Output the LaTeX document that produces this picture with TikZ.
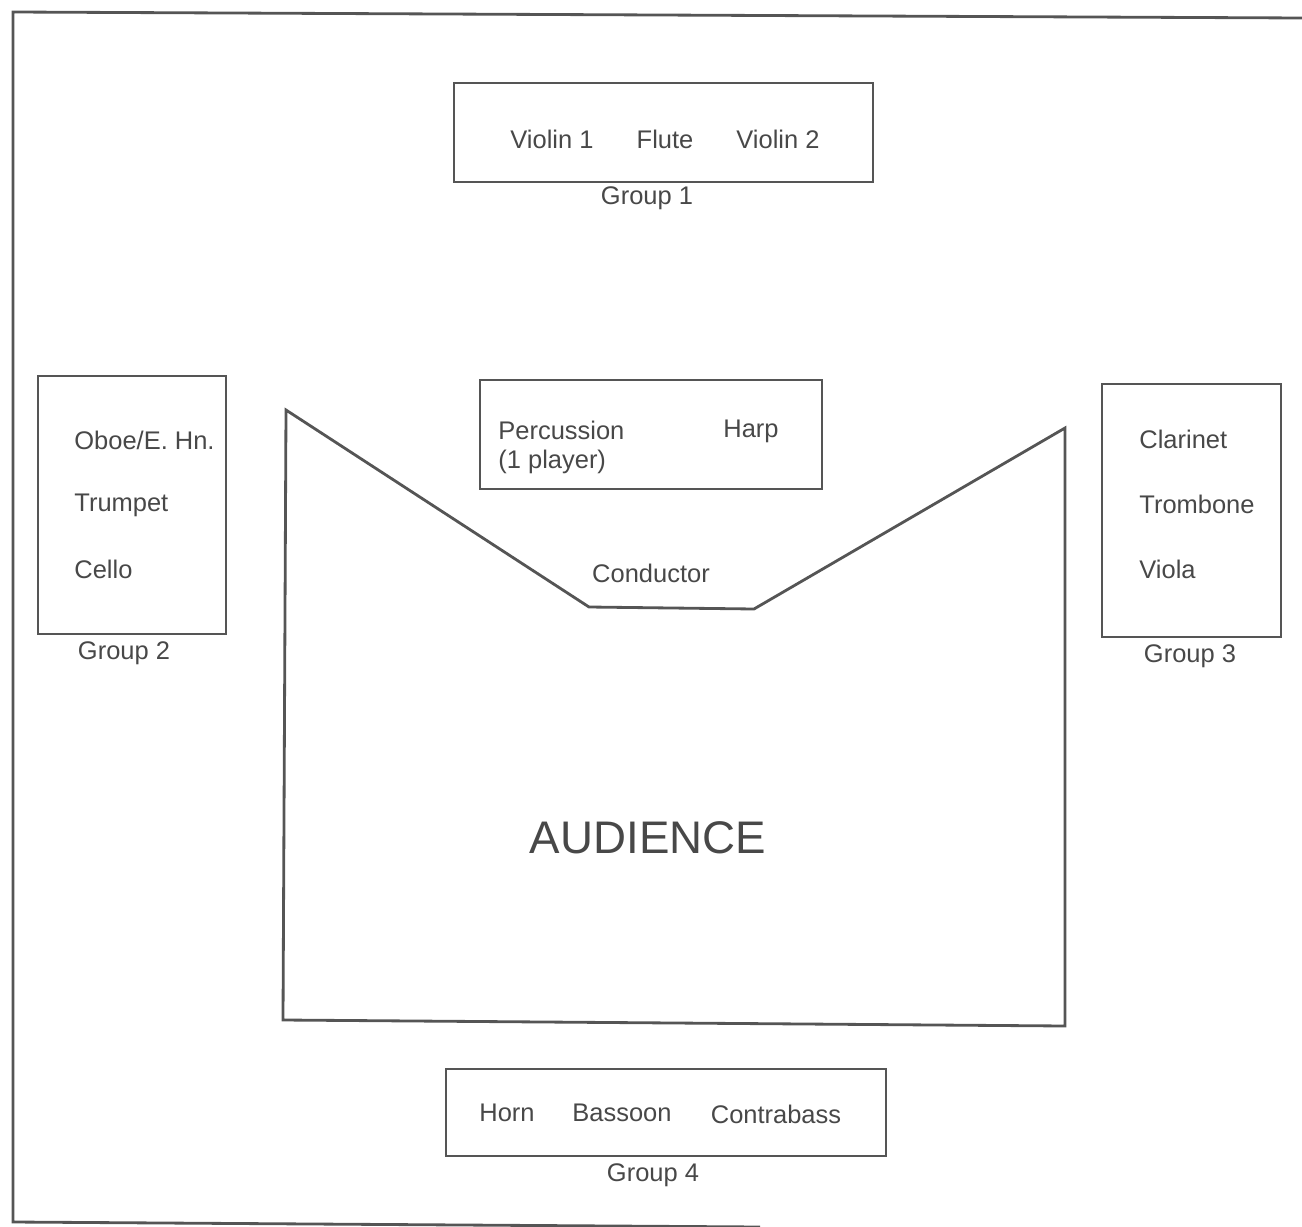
\documentclass[tikz,border=0pt]{standalone}
\usepackage{fontspec}
\setmainfont{Liberation Sans}
\definecolor{ink}{HTML}{555555}
\definecolor{txt}{HTML}{484848}
\begin{document}
\begin{tikzpicture}[x=0.02cm,y=-0.02cm,
  line width=1.6pt, draw=ink,
  box/.style={draw=ink, line width=1.6pt},
  lbl/.style={text=txt, font=\fontsize{14.5}{17}\selectfont, inner sep=0pt},
  lblw/.style={lbl, anchor=west}]
\useasboundingbox (0,0) rectangle (1302,1227);
% outer frame
\coordinate (ftl) at (13,12);
\coordinate (ftr) at (1302,18);
\coordinate (fbl) at (13,1222);
\coordinate (fbr) at (760,1227);
\draw[ink] (ftr) -- (ftl) -- (fbl) -- (fbr);
% Group 1
\draw[box] (454,83) rectangle (873,182);
\node[lbl] (v1) at (552,139) {Violin 1};
\node[lbl] (fl) at (665,139) {Flute};
\node[lbl] (v2) at (778,139) {Violin 2};
\node[lbl] (g1) at (647,198) {Group 1};
% Percussion / Harp
\draw[box] (480,380) rectangle (822,489);
\node[lblw] (perc) at (497,430) {Percussion};
\node[lblw] (play) at (497,462) {(1 player)};
\node[lblw] (harp) at (722,431) {Harp};
% Group 2
\draw[box] (38,376) rectangle (226,634);
\node[lblw] (oboe) at (73,440) {Oboe/E. Hn.};
\node[lblw] (trp) at (73,505) {Trumpet};
\node[lblw] (vc) at (73,569) {Cello};
\node[lbl] (g2) at (124,653) {Group 2};
% Group 3
\draw[box] (1102,384) rectangle (1281,637);
\node[lblw] (cl) at (1138,439) {Clarinet};
\node[lblw] (tbn) at (1138,504) {Trombone};
\node[lblw] (vla) at (1138,569) {Viola};
\node[lbl] (g3) at (1190,656) {Group 3};
% Audience area
\coordinate (a1) at (286,410);
\coordinate (a2) at (589,607);
\coordinate (a3) at (754,609);
\coordinate (a4) at (1065,428);
\coordinate (a5) at (1065,1026);
\coordinate (a6) at (283,1020);
\draw[ink, line join=miter] (a1) -- (a2) -- (a3) -- (a4) -- (a5) -- (a6) -- cycle;
\node[lbl] (cond) at (651,573) {Conductor};
\node[text=txt, font=\fontsize{26}{30}\selectfont, inner sep=0pt] (aud) at (648,838) {AUDIENCE};
% Group 4
\draw[box] (446,1069) rectangle (886,1156);
\node[lbl] (hn) at (507,1113) {Horn};
\node[lbl] (bsn) at (622,1113) {Bassoon};
\node[lbl] (cb) at (776,1114) {Contrabass};
\node[lbl] (g4) at (653,1175) {Group 4};
\end{tikzpicture}
\end{document}
